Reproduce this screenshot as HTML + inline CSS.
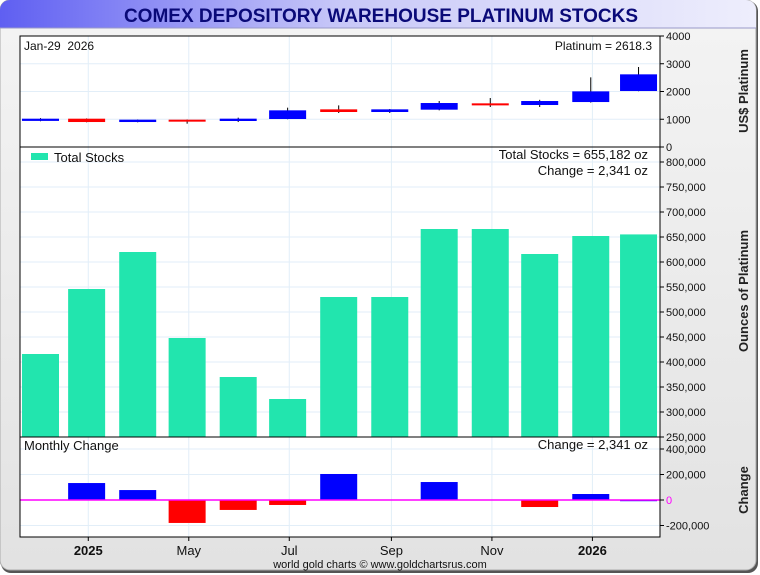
<!DOCTYPE html>
<html><head><meta charset="utf-8">
<style>
body{margin:0;background:#fff;}
#wrap{position:relative;width:760px;height:575px;overflow:hidden;font-family:"Liberation Sans",sans-serif;}
</style></head>
<body>
<div id="wrap">
<svg id="chart" width="760" height="575" viewBox="0 0 760 575" xmlns="http://www.w3.org/2000/svg">
<defs>
<linearGradient id="tg" x1="0" x2="1" y1="0" y2="0">
<stop offset="0" stop-color="#5f5ff2"/><stop offset="0.45" stop-color="#c8c8f8"/><stop offset="1" stop-color="#eeeefc"/>
</linearGradient>
<linearGradient id="bg" x1="0" x2="0" y1="0" y2="1">
<stop offset="0" stop-color="#f4f4f4"/><stop offset="1" stop-color="#e2e2e2"/>
</linearGradient>
</defs>
<rect x="1" y="1" width="757" height="572" rx="10" fill="#555"/>
<rect x="0" y="0" width="756" height="570" rx="10" fill="url(#bg)" stroke="#aaa"/>
<path d="M10 0 H746 A10 10 0 0 1 756 10 V28 H0 V10 A10 10 0 0 1 10 0Z" fill="url(#tg)"/>
<line x1="0" y1="28" x2="756" y2="28" stroke="#9a9ac8"/>
<text x="381" y="22" text-anchor="middle" font-size="19" font-weight="bold" fill="#0a0a78">COMEX DEPOSITORY WAREHOUSE PLATINUM STOCKS</text>
<g id="plots"></g>
<text x="380" y="568" text-anchor="middle" font-size="11" fill="#111">world gold charts © www.goldchartsrus.com</text>
</svg>
</div>
<script>
// ---- data ----
const categories = ["2025-01-31","2025-02-28","2025-03-31","2025-04-30","2025-05-31","2025-06-30","2025-07-31","2025-08-31","2025-09-30","2025-10-31","2025-11-30","2025-12-31","2026-01-29"];
const priceOpen  = [940,1020,900,985,937,1009,1357,1261,1345,1573,1513,1620,2018];
const priceClose = [1020,900,985,937,1021,1321,1261,1357,1585,1500,1657,2005,2618.3];
const priceHigh  = [1040,1030,990,990,1057,1417,1500,1370,1657,1765,1700,2510,2883];
const priceLow   = [930,890,890,840,900,1000,1225,1225,1321,1441,1441,1600,2010];
const totalStocks = [416000,546000,620000,448000,370000,326000,530000,530000,666000,666000,616000,652000,655182];
const monthlyChange = [0,133000,78000,-180000,-78000,-39000,204000,0,141000,0,-55000,47000,2341];
const xTickLabels = ["2025","May","Jul","Sep","Nov","2026"];
const xTickDates = ["2025-03-01","2025-05-01","2025-07-01","2025-09-01","2025-11-01","2026-01-01"];
const xTickBold = [true,false,false,false,false,true];
const priceTicks = [0,1000,2000,3000,4000];
const stockTicks = [250000,300000,350000,400000,450000,500000,550000,600000,650000,700000,750000,800000];
const changeTicks = [-200000,0,200000,400000];

// ---- scales ----
const L=20,R=660;
const D0=Date.UTC(2025,0,31);
const dayOf = s => (Date.parse(s+"T00:00:00Z")-D0)/86400000;
const x = s => 40.5 + dayOf(s)*1.6475;
const yP = v => 147 - v/4000*111;
const yS = v => 437 - (v-250000)/550000*275;
const yC = v => 500 - v/200000*25.5;
const barW = 37;

const NS="http://www.w3.org/2000/svg";
const g=document.getElementById('plots');
function mk(tag,attrs,parent){const e=document.createElementNS(NS,tag);for(const k in attrs)e.setAttribute(k,attrs[k]);(parent||g).appendChild(e);return e;}
function txt(s,attrs){const e=mk('text',attrs);e.textContent=s;return e;}

const panels=[[36,147,'price-panel'],[147,437,'stocks-panel'],[437,537,'change-panel']];
panels.forEach(p=>{
  const r=mk('rect',{x:L,y:p[0],width:R-L,height:p[1]-p[0],fill:'#fff'});
  
  
});
xTickDates.forEach((d,i)=>{
  const xx=x(d);
  const l=mk('line',{x1:xx,x2:xx,y1:36,y2:537,stroke:'#e2eef8'});
  
  
  const t=txt(xTickLabels[i],{x:xx,y:555,'text-anchor':'middle','font-size':13,'font-weight':xTickBold[i]?'bold':'normal',fill:'#111'});
  
  
  const tk=mk('line',{x1:xx,x2:xx,y1:537,y2:541,stroke:'#000'});
  
  
});
function yAxis(ticks,sc,fmt,name,top,bot){
  ticks.forEach(v=>{
    const y=sc(v);
    if(y>top+1&&y<bot-1){const l=mk('line',{x1:L,x2:R,y1:y,y2:y,stroke:'#e2eef8'});
      
      }
    const tk=mk('line',{x1:R,x2:R+4,y1:y,y2:y,stroke:'#000'});
    
    
    const t=txt(fmt(v),{x:R+6,y:y+4,'font-size':11,fill:v===0&&name==='change'?'#ff00ff':'#111'});
    
    
  });
}
const f=v=>v.toLocaleString('en-US');
yAxis(priceTicks,yP,v=>String(v),'price',36,147);
yAxis(stockTicks,yS,f,'stocks',147,437);
yAxis(changeTicks,yC,f,'change',437,537);

categories.forEach((c,i)=>{
  const cx=x(c);
  const up=priceClose[i]>=priceOpen[i];
  const col=up?'#0000ff':'#ff0000';
  const w=mk('line',{x1:cx,x2:cx,y1:yP(priceHigh[i]),y2:yP(priceLow[i]),stroke:'#000'});
  
  
  const t=yP(Math.max(priceOpen[i],priceClose[i])),b=yP(Math.min(priceOpen[i],priceClose[i]));
  const r=mk('rect',{x:cx-barW/2,y:t,width:barW,height:Math.max(2,b-t),fill:col});
  
  
});
categories.forEach((c,i)=>{
  const cx=x(c);
  const r=mk('rect',{x:cx-barW/2,y:yS(totalStocks[i]),width:barW,height:437-yS(totalStocks[i]),fill:'#22e5ae'});
  
  
});
categories.forEach((c,i)=>{
  const cx=x(c);
  const v=monthlyChange[i];
  if(v===0)return;
  const y0=yC(0),y1=yC(v);
  const r=mk('rect',{x:cx-barW/2,y:Math.min(y0,y1),width:barW,height:Math.max(1.5,Math.abs(y1-y0)),fill:v>0?'#0000ff':'#ff0000'});
  
  
});
const zl=mk('line',{x1:L,x2:R,y1:yC(0),y2:yC(0),stroke:'#ff00ff','stroke-width':1.5});


panels.forEach(p=>{
  const r=mk('rect',{x:L,y:p[0],width:R-L,height:p[1]-p[0],fill:'none',stroke:'#000'});
  
  
});
function lab(s,a,name){const t=txt(s,a);return t;}
const dl=lab('Jan-29\u00a0\u00a02026',{x:24,y:50,'font-size':12,fill:'#111'},'date-label');
lab('Platinum = '+priceClose[priceClose.length-1].toFixed(1),{x:652,y:50,'font-size':12,'text-anchor':'end',fill:'#111'},'platinum-value-label');
const lg=mk('rect',{x:31,y:153,width:17,height:7,fill:'#22e5ae'});


lab('Total Stocks',{x:54,y:162,'font-size':13,fill:'#111'},'legend-entry');
lab('Total Stocks = '+f(totalStocks[totalStocks.length-1])+' oz',{x:648,y:159,'font-size':13,'text-anchor':'end',fill:'#111'},'total-stocks-label');
lab('Change = '+f(monthlyChange[monthlyChange.length-1])+' oz',{x:648,y:175,'font-size':13,'text-anchor':'end',fill:'#111'},'change-label');
lab('Monthly Change',{x:24,y:450,'font-size':13,fill:'#111'},'monthly-change-label');
lab('Change = '+f(monthlyChange[monthlyChange.length-1])+' oz',{x:648,y:449,'font-size':13,'text-anchor':'end',fill:'#111'},'change-panel-value-label');
lab('US$ Platinum',{x:0,y:0,'font-size':13,'font-weight':'bold','text-anchor':'middle',fill:'#222',transform:'translate(748,91) rotate(-90)'},'price-axis-title');
lab('Ounces of Platinum',{x:0,y:0,'font-size':13,'font-weight':'bold','text-anchor':'middle',fill:'#222',transform:'translate(748,291) rotate(-90)'},'stocks-axis-title');
lab('Change',{x:0,y:0,'font-size':13,'font-weight':'bold','text-anchor':'middle',fill:'#222',transform:'translate(748,490) rotate(-90)'},'change-axis-title');
</script>
</body></html>
